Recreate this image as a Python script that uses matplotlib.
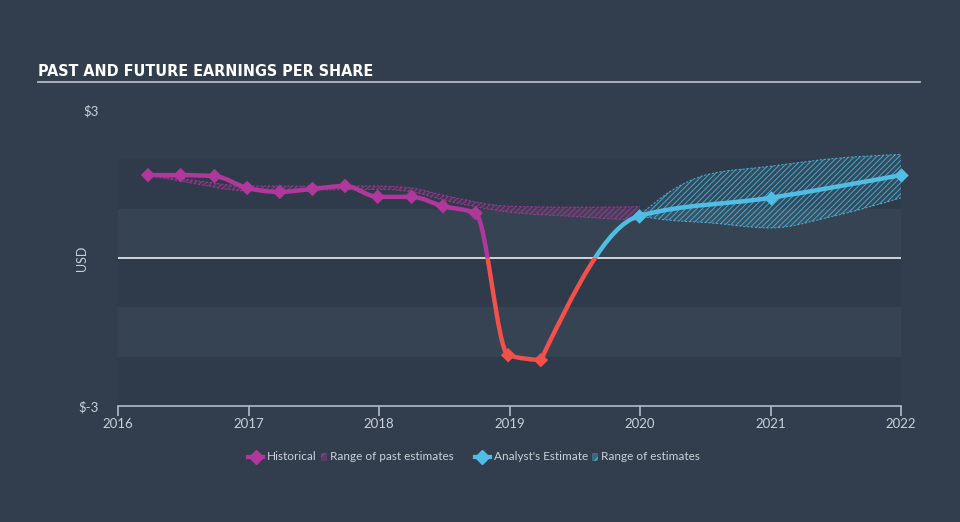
#!/usr/bin/env python3

### IMPORT
import numpy as np
import matplotlib
matplotlib.use('Agg')
import matplotlib.pyplot as plt
from matplotlib.path import Path
from matplotlib.patches import PathPatch, Rectangle
from matplotlib.lines import Line2D

### DATA
hist_dates = [2016.23, 2016.48, 2016.74, 2016.99, 2017.24, 2017.49, 2017.74,
	2017.99, 2018.25, 2018.49, 2018.74, 2018.99, 2019.24]
hist_eps = [1.68, 1.68, 1.66, 1.42, 1.34, 1.40, 1.46,
	1.24, 1.24, 1.05, 0.91, -1.97, -2.07]

est_dates = [2019.24, 2019.99, 2021.0, 2022.0]
est_eps = [-2.07, 0.85, 1.22, 1.68]
est_marked = [2019.99, 2021.0, 2022.0]

past_dates = [2016.23, 2016.5, 2017.0, 2017.5, 2018.0, 2018.25, 2018.5, 2019.0, 2019.5, 2020.0]
past_high = [1.68, 1.60, 1.46, 1.46, 1.46, 1.42, 1.27, 1.05, 1.03, 1.04]
past_low = [1.68, 1.55, 1.36, 1.38, 1.39, 1.34, 1.17, 0.93, 0.84, 0.76]

fut_dates = [2019.99, 2020.25, 2020.5, 2021.0, 2021.5, 2022.0]
fut_high = [0.85, 1.38, 1.68, 1.86, 2.02, 2.10]
fut_low = [0.85, 0.76, 0.72, 0.61, 0.86, 1.22]

year_ticks = [2016, 2017, 2018, 2019, 2020, 2021, 2022]
y_ticks = [-3, 3]
y_labels = ['$-3', '$3']

### STYLE
BG = '#323e4d'
BAND_LIGHT = '#354352'
BAND_DARK = '#2f3b4a'
PURPLE = '#b0379b'
RED = '#f2504b'
BLUE = '#4fbde4'
TEXT = '#c9d0d8'
plt.rcParams['font.family'] = ['Lato', 'DejaVu Sans']
plt.rcParams['hatch.linewidth'] = 0.7

### SMOOTH CURVES (monotone x, like d3)
def mono_tangents(x, y):
	x = np.asarray(x, float)
	y = np.asarray(y, float)
	h = np.diff(x)
	s = np.diff(y) / h
	n = len(x)
	m = np.zeros(n)
	for k in range(1, n - 1):
		s0, s1 = s[k - 1], s[k]
		p = (s0 * h[k] + s1 * h[k - 1]) / (h[k - 1] + h[k])
		m[k] = (np.sign(s0) + np.sign(s1)) * min(abs(s0), abs(s1), 0.5 * abs(p))
	if n > 2:
		m[0] = (3 * s[0] - m[1]) / 2
		m[-1] = (3 * s[-1] - m[-2]) / 2
	else:
		m[0] = m[-1] = s[0]
	return m

def bez_verts(x, y):
	m = mono_tangents(x, y)
	v = [(x[0], y[0])]
	for k in range(len(x) - 1):
		h = x[k + 1] - x[k]
		v += [(x[k] + h / 3, y[k] + m[k] * h / 3),
			(x[k + 1] - h / 3, y[k + 1] - m[k + 1] * h / 3),
			(x[k + 1], y[k + 1])]
	return v

def curve_path(x, y):
	v = bez_verts(x, y)
	return Path(v, [Path.MOVETO] + [Path.CURVE4] * (len(v) - 1))

def band_path(x, lo, hi):
	up = bez_verts(x, hi)
	dn = bez_verts(x, lo)[::-1]
	v = up + dn + [up[0]]
	c = [Path.MOVETO] + [Path.CURVE4] * (len(up) - 1) + [Path.LINETO] + [Path.CURVE4] * (len(dn) - 1) + [Path.CLOSEPOLY]
	return Path(v, c)

### FIGURE
fig = plt.figure(figsize = (9.6, 5.22), dpi = 100, facecolor = BG)
ax = fig.add_axes([118 / 960, 1 - 406 / 522, 783 / 960, 296 / 522])
ax.set_facecolor(BG)
ax.set_xlim(2016, 2022)
ax.set_ylim(-3, 3)

for lo in (1, -1, -3):
	ax.axhspan(lo, lo + 1, color = BAND_DARK, lw = 0, zorder = 0)
for lo in (0, -2):
	ax.axhspan(lo, lo + 1, color = BAND_LIGHT, lw = 0, zorder = 0)
ax.axhline(0, color = 'white', lw = 1.1, zorder = 1)

### RANGES
def draw_band(x, lo, hi, col):
	p = PathPatch(band_path(x, lo, hi), facecolor = matplotlib.colors.to_rgba(col, 0.12),
		edgecolor = matplotlib.colors.to_rgba(col, 0.8), hatch = '//////', lw = 0, zorder = 2)
	ax.add_patch(p)
	for edge in (lo, hi):
		ax.add_patch(PathPatch(curve_path(x, edge), fill = False, edgecolor = col,
			lw = 0.8, ls = (0, (2, 1.5)), alpha = 0.8, zorder = 2))

draw_band(past_dates, past_low, past_high, PURPLE)
draw_band(fut_dates, fut_low, fut_high, BLUE)

### LINES (red below zero)
above = Rectangle((2010, 0), 20, 10, transform = ax.transData)
below = Rectangle((2010, -10), 20, 10, transform = ax.transData)

def draw_line(x, y, col):
	for clip, c in ((above, col), (below, RED)):
		p = PathPatch(curve_path(x, y), fill = False, edgecolor = c, lw = 3.2,
			capstyle = 'round', joinstyle = 'round', zorder = 4)
		ax.add_patch(p)
		p.set_clip_path(clip)

draw_line(hist_dates, hist_eps, PURPLE)
draw_line(est_dates, est_eps, BLUE)

hcols = [PURPLE if v >= 0 else RED for v in hist_eps]
ax.scatter(hist_dates, hist_eps, marker = 'D', s = 55, c = hcols, lw = 0, zorder = 5)
ecols = [est_eps[est_dates.index(d)] for d in est_marked]
ax.scatter(est_marked, ecols, marker = 'D', s = 55, c = BLUE, lw = 0, zorder = 5, clip_on = False)

### AXES
for s in ('left', 'right', 'top'):
	ax.spines[s].set_visible(False)
ax.spines['bottom'].set_color('#aebbcb')
ax.spines['bottom'].set_linewidth(1.2)
ax.set_xticks(year_ticks)
ax.set_xticklabels([str(t) for t in year_ticks])
ax.tick_params(axis = 'x', colors = '#aebbcb', length = 7, width = 1.2, labelsize = 9.5, pad = 2)
for lab in ax.get_xticklabels():
	lab.set_color(TEXT)
ax.set_yticks(y_ticks)
ax.set_yticklabels(y_labels)
ax.tick_params(axis = 'y', length = 0, labelsize = 9.5, labelcolor = TEXT, pad = 14)
ax.set_ylabel('USD', color = TEXT, fontsize = 9)
ax.yaxis.set_label_coords(-0.038, 0.5)

### TITLE
fig.text(38 / 960, 1 - 76 / 522, 'PAST AND FUTURE EARNINGS PER SHARE', color = 'white',
	fontsize = 11.5, fontweight = 'bold', fontstretch = 'condensed', family = 'DejaVu Sans',
	ha = 'left', va = 'baseline')
fig.add_artist(Line2D([38 / 960, 920 / 960], [1 - 82 / 522] * 2, color = '#b3b9c1', lw = 1.3))

### LEGEND
ly = 1 - 457 / 522
def leg_line(x0, col, label):
	fig.add_artist(Line2D([x0 / 960, (x0 + 15) / 960], [ly, ly], color = col, lw = 3))
	fig.add_artist(Line2D([(x0 + 7.5) / 960], [ly], color = col, marker = 'D', ms = 7, lw = 0))
	fig.text((x0 + 19) / 960, ly, label, color = TEXT, fontsize = 8.5, ha = 'left', va = 'center')

def leg_hatch(x0, col, label):
	fig.add_artist(Rectangle((x0 / 960, ly - 4 / 522), 6 / 960, 8 / 522, transform = fig.transFigure,
		facecolor = matplotlib.colors.to_rgba(col, 0.35), edgecolor = col, hatch = '///', lw = 0))
	fig.text((x0 + 9) / 960, ly, label, color = TEXT, fontsize = 8.5, ha = 'left', va = 'center')

leg_line(248, PURPLE, 'Historical')
leg_hatch(321, PURPLE, 'Range of past estimates')
leg_line(475, BLUE, "Analyst's Estimate")
leg_hatch(592, BLUE, 'Range of estimates')

### SAVE
fig.savefig('out.png', dpi = 100, facecolor = BG)
